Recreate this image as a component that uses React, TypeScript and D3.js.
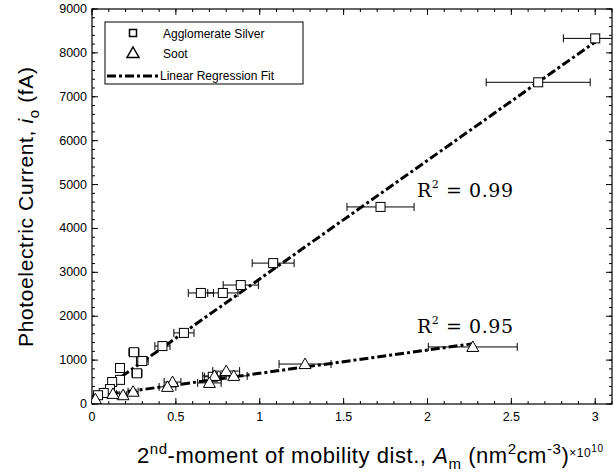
import React from "react";
import * as d3 from "d3";

const silverX = [3.0, 2.66, 1.72, 1.08, 0.887, 0.78, 0.649, 0.548, 0.42, 0.3, 0.25, 0.268, 0.167, 0.167, 0.12, 0.107, 0.07, 0.036, 0.72];
const silverY = [8330, 7330, 4490, 3210, 2710, 2530, 2530, 1620, 1320, 980, 1180, 700, 820, 550, 500, 340, 250, 200, 620];
const silverErr = [0.19, 0.31, 0.2, 0.125, 0.105, 0.09, 0.075, 0.06, 0.045, 0.035, 0.03, 0.03, 0.02, 0.02, 0.015, 0.015, 0.01, 0.01, 0.05];

const sootX = [2.27, 1.27, 0.8, 0.845, 0.73, 0.7, 0.48, 0.45, 0.245, 0.185, 0.125, 0.02];
const sootY = [1300, 910, 750, 640, 640, 480, 500, 390, 280, 200, 230, 110];
const sootErr = [0.265, 0.155, 0.08, 0.08, 0.07, 0.07, 0.05, 0.05, 0.03, 0.02, 0.02, 0.01];

const silverFitX = [0, 3.0];
const silverFitY = [150, 8250];
const sootFitX = [0, 2.27];
const sootFitY = [170, 1373];

const xTicks = [0, 0.5, 1, 1.5, 2, 2.5, 3];
const xTickLabels = ["0", "0.5", "1", "1.5", "2", "2.5", "3"];
const yTicks = [0, 1000, 2000, 3000, 4000, 5000, 6000, 7000, 8000, 9000];

const W = 614, H = 473;
const L = 92, R = 612, T = 9, B = 404;
const font = "'Liberation Sans', Arial, Helvetica, sans-serif";
const dash = "9,3,3,3";

export default function App() {
  const x = d3.scaleLinear().domain([0, 3.1]).range([L, R]);
  const y = d3.scaleLinear().domain([0, 9000]).range([B, T]);
  const xMinor = d3.range(0, 3.1001, 0.1);
  const yMinor = d3.range(0, 9001, 200);
  const line = d3.line<number>().x((d) => d);

  const sq = 4.5;
  const tri = (cx: number, cy: number) =>
    `M${cx},${cy - 6}L${cx + 6},${cy + 4.5}L${cx - 6},${cy + 4.5}Z`;

  const errBar = (xs: number[], ys: number[], es: number[], key: string) =>
    xs.map((xv, i) => {
      const x0 = x(Math.max(0, xv - es[i]));
      const x1 = x(xv + es[i]);
      const yy = y(ys[i]);
      return (
        <g key={key + i} stroke="#000" strokeWidth={1}>
          <line x1={x0} x2={x1} y1={yy} y2={yy} />
          <line x1={x0} x2={x0} y1={yy - 4} y2={yy + 4} />
          <line x1={x1} x2={x1} y1={yy - 4} y2={yy + 4} />
        </g>
      );
    });

  return (
    <svg width={W} height={H} style={{ position: "absolute", left: 0, top: 0, background: "#fff" }}>
      <defs>
        <clipPath id="clip">
          <rect x={L} y={T} width={R - L} height={B - T} />
        </clipPath>
      </defs>
      <rect x={0} y={0} width={W} height={H} fill="#fff" />
      {/* minor ticks */}
      <g stroke="#000" strokeWidth={1}>
        {xMinor.map((t, i) => (
          <g key={"xm" + i}>
            <line x1={x(t)} x2={x(t)} y1={B} y2={B - 3} />
            <line x1={x(t)} x2={x(t)} y1={T} y2={T + 3} />
          </g>
        ))}
        {yMinor.map((t, i) => (
          <g key={"ym" + i}>
            <line x1={L} x2={L + 3} y1={y(t)} y2={y(t)} />
            <line x1={R} x2={R - 3} y1={y(t)} y2={y(t)} />
          </g>
        ))}
        {xTicks.map((t, i) => (
          <g key={"xM" + i}>
            <line x1={x(t)} x2={x(t)} y1={B} y2={B - 6} />
            <line x1={x(t)} x2={x(t)} y1={T} y2={T + 6} />
          </g>
        ))}
        {yTicks.map((t, i) => (
          <g key={"yM" + i}>
            <line x1={L} x2={L + 6} y1={y(t)} y2={y(t)} />
            <line x1={R} x2={R - 6} y1={y(t)} y2={y(t)} />
          </g>
        ))}
      </g>
      <rect x={L} y={T} width={R - L} height={B - T} fill="none" stroke="#000" strokeWidth={1.2} />
      {/* tick labels */}
      <g fontFamily={font} fontSize={12.5} fill="#000">
        {xTicks.map((t, i) => (
          <text key={"xl" + i} x={x(t)} y={421} textAnchor="middle">{xTickLabels[i]}</text>
        ))}
        {yTicks.map((t, i) => (
          <text key={"yl" + i} x={L - 5} y={y(t) + 4} textAnchor="end">{t}</text>
        ))}
      </g>
      <g clipPath="url(#clip)">
        {/* fit lines */}
        <path d={line.y((_, i) => y(silverFitY[i]))(silverFitX.map((v) => x(v))) || ""} fill="none" stroke="#000" strokeWidth={3} strokeDasharray={dash} />
        <path d={line.y((_, i) => y(sootFitY[i]))(sootFitX.map((v) => x(v))) || ""} fill="none" stroke="#000" strokeWidth={3} strokeDasharray={dash} />
        {errBar(silverX, silverY, silverErr, "se")}
        {errBar(sootX, sootY, sootErr, "te")}
        {silverX.map((xv, i) => (
          <rect key={"s" + i} x={x(xv) - sq} y={y(silverY[i]) - sq} width={sq * 2} height={sq * 2} fill="#fff" stroke="#000" strokeWidth={1} />
        ))}
        {sootX.map((xv, i) => (
          <path key={"t" + i} d={tri(x(xv), y(sootY[i]))} fill="#fff" stroke="#000" strokeWidth={1} />
        ))}
      </g>
      {/* R^2 labels */}
      <g fontFamily="'DejaVu Serif', 'Liberation Serif', serif" fontSize={19} fill="#000">
        <text x={417} y={197} textLength={96}>R<tspan fontSize={11} dy={-9}>2</tspan><tspan dy={9}> = 0.99</tspan></text>
        <text x={417} y={333} textLength={96}>R<tspan fontSize={11} dy={-9}>2</tspan><tspan dy={9}> = 0.95</tspan></text>
      </g>
      {/* legend */}
      <g fontFamily={font} fontSize={12}>
        <rect x={105} y={22} width={198} height={62} fill="#fff" stroke="#000" strokeWidth={1} />
        <rect x={129.5} y={29.5} width={7} height={7} fill="#fff" stroke="#000" strokeWidth={1.5} />
        <path d={tri(133, 53)} fill="#fff" stroke="#000" strokeWidth={1.5} />
        <line x1={107} x2={159} y1={76} y2={76} stroke="#000" strokeWidth={3} strokeDasharray={dash} />
        <text x={163} y={38}>Agglomerate Silver</text>
        <text x={163} y={58}>Soot</text>
        <text x={160} y={80}>Linear Regression Fit</text>
      </g>
      {/* axis labels */}
      <text x={33} y={347} transform="rotate(-90 33 347)" fontFamily={font} fontSize={21} textLength={280} lengthAdjust="spacing">
        Photoelectric Current, <tspan fontStyle="italic">i</tspan><tspan fontSize={15} dy={6}>o</tspan><tspan dy={-6}> (fA)</tspan>
      </text>
      <text x={137} y={463} fontFamily={font} fontSize={22} textLength={466} lengthAdjust="spacing">
        2<tspan fontSize={15} dy={-9}>nd</tspan><tspan dy={9}>-moment of mobility dist., </tspan><tspan fontStyle="italic">A</tspan><tspan fontSize={15} dy={6}>m</tspan><tspan dy={-6}> (nm</tspan><tspan fontSize={15} dy={-9}>2</tspan><tspan dy={9}>cm</tspan><tspan fontSize={15} dy={-9}>-3</tspan><tspan dy={9}>)</tspan><tspan fontSize={12} dy={-6}>×10</tspan><tspan fontSize={10} dy={-5}>10</tspan>
      </text>
    </svg>
  );
}
